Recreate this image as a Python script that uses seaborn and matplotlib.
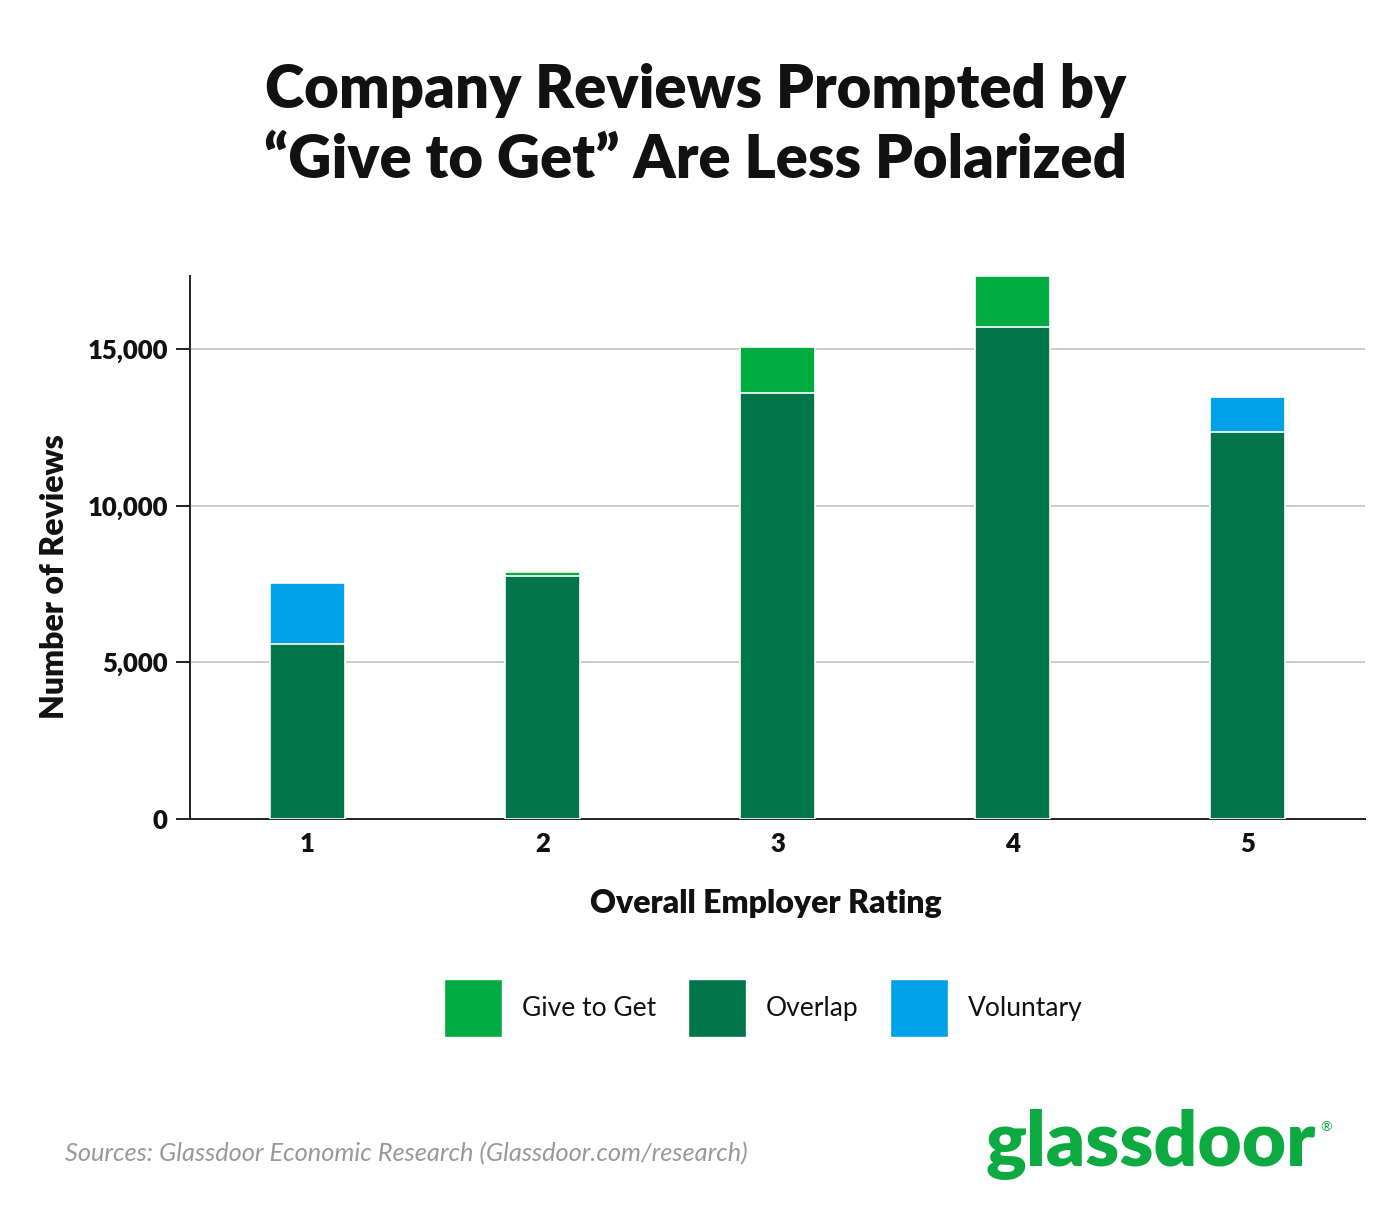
import pandas as pd
import numpy as np
import matplotlib.pyplot as plt
import seaborn as sns
from matplotlib.patches import Patch

# -------------------
# Data
ratings = ["1", "2", "3", "4", "5"]
overlap = [5590, 7760, 13600, 15700, 12350]
give_to_get = [0, 130, 1470, 1630, 0]
voluntary = [1950, 0, 0, 0, 1120]
y_ticks = [0, 5000, 10000, 15000]

legend_labels = ["Give to Get", "Overlap", "Voluntary"]
colors = {"Give to Get": "#00AC40", "Overlap": "#00754A", "Voluntary": "#00A1E9"}

df = pd.DataFrame({"rating": ratings, "overlap": overlap,
                   "give": give_to_get, "voluntary": voluntary})
df["total"] = df["overlap"] + df["give"] + df["voluntary"]
df["top"] = np.where(df["voluntary"] > 0, "Voluntary", "Give to Get")

# -------------------
sns.set_style("white")
plt.rcParams['font.family'] = ['Lato', 'DejaVu Sans']
plt.rcParams['text.color'] = "#111111"
plt.rcParams['axes.labelcolor'] = "#111111"
plt.rcParams['xtick.color'] = "#111111"
plt.rcParams['ytick.color'] = "#111111"

fig = plt.figure(figsize=(14, 12.2), dpi=100)
ax = fig.add_axes([190 / 1400, 1 - 819 / 1220, 1175 / 1400, (819 - 276) / 1220])

# total bar (top segment colour) underneath, overlap on top
sns.barplot(data=df, x="rating", y="total", hue="top", palette=colors,
            dodge=False, width=0.32, edgecolor="white", linewidth=1.2,
            saturation=1, legend=False, ax=ax, zorder=2)
sns.barplot(data=df, x="rating", y="overlap", color=colors["Overlap"],
            width=0.32, edgecolor="white", linewidth=1.2, saturation=1,
            ax=ax, zorder=3)

ax.set_ylim(0, 17330)
ax.set_xlim(-0.5, 4.5)
ax.grid(axis="y", color="#c8c8c8", linewidth=1.3, zorder=0)
ax.set_axisbelow(True)

for s in ["top", "right"]:
    ax.spines[s].set_visible(False)
for s in ["left", "bottom"]:
    ax.spines[s].set_color("#222222")
    ax.spines[s].set_linewidth(1.4)

ax.tick_params(axis="x", which="major", length=0, pad=9)
ax.tick_params(axis="x", which="minor", length=8, width=1.4, color="#222222", direction="out")
ax.tick_params(axis="y", length=10, width=1.4, color="#222222", pad=6, left=True)
ax.set_xticks(np.arange(-0.5, 5, 1), minor=True)
ax.set_yticks(y_ticks, labels=[f"{v:,}" for v in y_ticks], fontsize=18.5, fontweight="heavy")
ax.set_xticks(range(len(ratings)), labels=ratings, fontsize=18.5, fontweight="heavy")

ax.set_xlabel("Overall Employer Rating", fontsize=23, fontweight="heavy")
ax.set_ylabel("Number of Reviews", fontsize=23, fontweight="heavy")
ax.xaxis.set_label_coords(0.490, -0.128)
ax.yaxis.set_label_coords(-0.103, 0.446)

# -------------------
# Title, legend, footer
fig.text(0.497, 1 - 90 / 1220, "Company Reviews Prompted by", ha="center", va="center",
         fontsize=43, fontweight="heavy")
fig.text(0.497, 1 - 160 / 1220, "\u201cGive to Get\u201d Are Less Polarized", ha="center",
         va="center", fontsize=43, fontweight="heavy")

handles = [Patch(facecolor=colors[l], label=l) for l in legend_labels]
fig.legend(handles=handles, loc="center", bbox_to_anchor=(763 / 1400, 1 - 1008 / 1220),
           ncol=3, frameon=False, prop={"size": 19, "weight": "normal"},
           handlelength=2.2, handleheight=3.0, handletextpad=0.75, columnspacing=1.2)

fig.text(65 / 1400, 1 - 1154 / 1220, "Sources: Glassdoor Economic Research (Glassdoor.com/research)",
         ha="left", va="center", fontsize=18.3, style="italic", fontweight="normal",
         color="#999999")
fig.text(985 / 1400, 1 - 1145 / 1220, "glassdoor", ha="left", va="center",
         fontsize=55, fontweight="heavy", color="#0CAA41")
fig.text(1320 / 1400, 1 - 1127 / 1220, "\u00ae", ha="left", va="center",
         fontsize=10, fontweight="normal", color="#0CAA41")

fig.savefig("out.png", dpi=100, facecolor="white")
